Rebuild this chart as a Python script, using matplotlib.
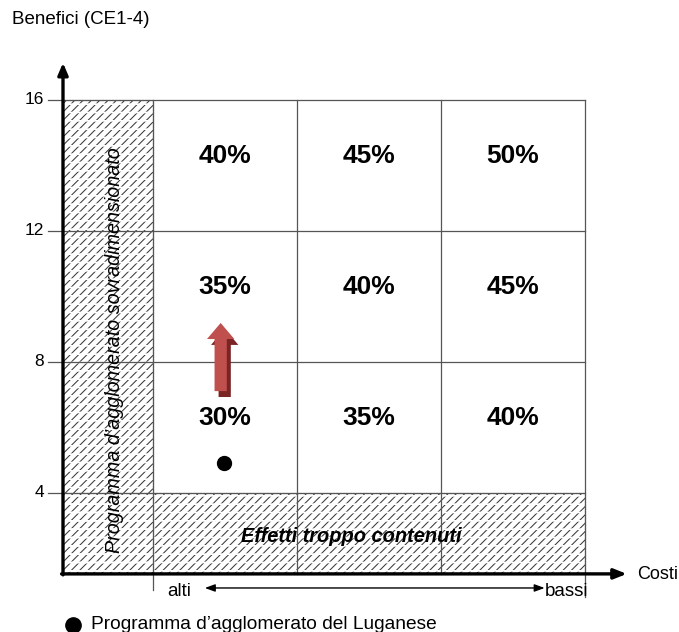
import matplotlib.pyplot as plt
import matplotlib as mpl
from matplotlib.patches import Rectangle, FancyArrow

plt.rcParams['font.family'] = ['Liberation Sans', 'DejaVu Sans']

# Data
y_ticks = [4, 8, 12, 16]
col_edges = [0, 1, 2, 3]
row_edges = [4, 8, 12, 16]
# percentages by row (bottom to top) and column (left to right)
percentages = [
    ['30%', '35%', '40%'],
    ['35%', '40%', '45%'],
    ['40%', '45%', '50%'],
]
programme_x = 0.49
programme_y = 4.92
arrow_from = 7.11
arrow_to = 9.19

x_axis_y = 1.53
y_axis_x = -0.625

fig = plt.figure(figsize=(6.79, 6.32), dpi=100)
ax = fig.add_axes([0, 0, 1, 1])
ax.set_xlim(-1.0625, 3.653)
ax.set_ylim(-0.244, 19.05)
ax.axis('off')

grid_col = '#555555'

# hatched zones (slashes broken into rows by white horizontal lines)
zones = [
    (y_axis_x, x_axis_y, 0 - y_axis_x, 16 - x_axis_y),
    (y_axis_x, x_axis_y, 3 - y_axis_x, 4 - x_axis_y),
]
for x0, y0, w, h in zones:
    with mpl.rc_context({'hatch.linewidth': 0.75, 'hatch.color': '#3a3a3a'}):
        ax.add_patch(Rectangle((x0, y0), w, h, facecolor='white',
                               edgecolor='#3a3a3a', hatch='////', lw=0, zorder=1))
    with mpl.rc_context({'hatch.linewidth': 1.2, 'hatch.color': 'white'}):
        ax.add_patch(Rectangle((x0, y0), w, h, facecolor='none',
                               edgecolor='white', hatch='--', lw=0, zorder=1.1))
    ax.add_patch(Rectangle((x0, y0), w, h, facecolor='none',
                           edgecolor='#444444', lw=0.8, ls=(0, (2, 1)), zorder=1.2))

# grid lines
for yv in row_edges:
    ax.plot([-0.729, col_edges[-1]], [yv, yv], color=grid_col, lw=0.9, zorder=2)
for i, xv in enumerate(col_edges):
    bottom = x_axis_y
    if i == 0:
        bottom = 1.04
    elif i == len(col_edges) - 1:
        bottom = 0.82
    ax.plot([xv, xv], [bottom, row_edges[-1]], color=grid_col, lw=0.9, zorder=2)

# y tick labels
for yv in y_ticks:
    ax.text(-0.755, yv, str(yv), ha='right', va='center', fontsize=12.5)

# percentages
for r in range(3):
    for c in range(3):
        ax.text(col_edges[c] + 0.5, row_edges[r] + 2.3, percentages[r][c],
                ha='center', va='center', fontsize=19, fontweight='bold', zorder=5)

# main axes with arrows
ax.annotate('', xy=(y_axis_x, 17.13), xytext=(y_axis_x, x_axis_y - 0.03),
            arrowprops=dict(arrowstyle='-|>,head_length=0.7,head_width=0.3',
                            lw=2.4, color='black', shrinkA=0, shrinkB=0), zorder=6)
ax.annotate('', xy=(3.29, x_axis_y), xytext=(y_axis_x - 0.01, x_axis_y),
            arrowprops=dict(arrowstyle='-|>,head_length=0.75,head_width=0.3',
                            lw=2.4, color='black', shrinkA=0, shrinkB=0), zorder=6)

# alti <-> bassi
ax.annotate('', xy=(2.72, 1.1), xytext=(0.36, 1.1),
            arrowprops=dict(arrowstyle='<|-|>,head_length=0.6,head_width=0.22',
                            lw=1.0, color='black', shrinkA=0, shrinkB=0))
ax.text(0.1, 1.0, 'alti', ha='left', va='center', fontsize=13.5)
ax.text(2.72, 1.0, 'bassi', ha='left', va='center', fontsize=13.5)
ax.text(3.36, 1.5, 'Costi', ha='left', va='center', fontsize=13)
ax.text(-0.98, 18.45, 'Benefici (CE1-4)', ha='left', va='center', fontsize=13.5)

# zone labels
ax.text(-0.27, 8.37, 'Programma d\u2019agglomerato sovradimensionato', rotation=90,
        ha='center', va='center', fontsize=14.2, fontstyle='italic', zorder=5)
ax.text(1.38, 2.66, 'Effetti troppo contenuti', ha='center', va='center',
        fontsize=14.4, fontstyle='italic', fontweight='bold', zorder=5)

# red arrow with shadow
shaft_w = 0.085
head_w = 0.19
head_len = 0.49
ax.add_patch(FancyArrow(programme_x - 0.02 + 0.028, arrow_from - 0.18, 0, arrow_to - arrow_from,
                        width=shaft_w, head_width=head_w, head_length=head_len,
                        length_includes_head=True, color='#7b2424', lw=0, zorder=6))
ax.add_patch(FancyArrow(programme_x - 0.02, arrow_from, 0, arrow_to - arrow_from,
                        width=shaft_w, head_width=head_w, head_length=head_len,
                        length_includes_head=True, color='#c0504d', lw=0, zorder=7))

# programme point
ax.plot([programme_x], [programme_y], 'o', color='black', ms=10, zorder=8)

# legend
ax.plot([-0.555], [-0.02], 'o', color='black', ms=11, clip_on=False)
ax.text(-0.43, 0.0, 'Programma d\u2019agglomerato del Luganese', ha='left', va='center',
        fontsize=13.8)

fig.savefig('out.png', dpi=100)
